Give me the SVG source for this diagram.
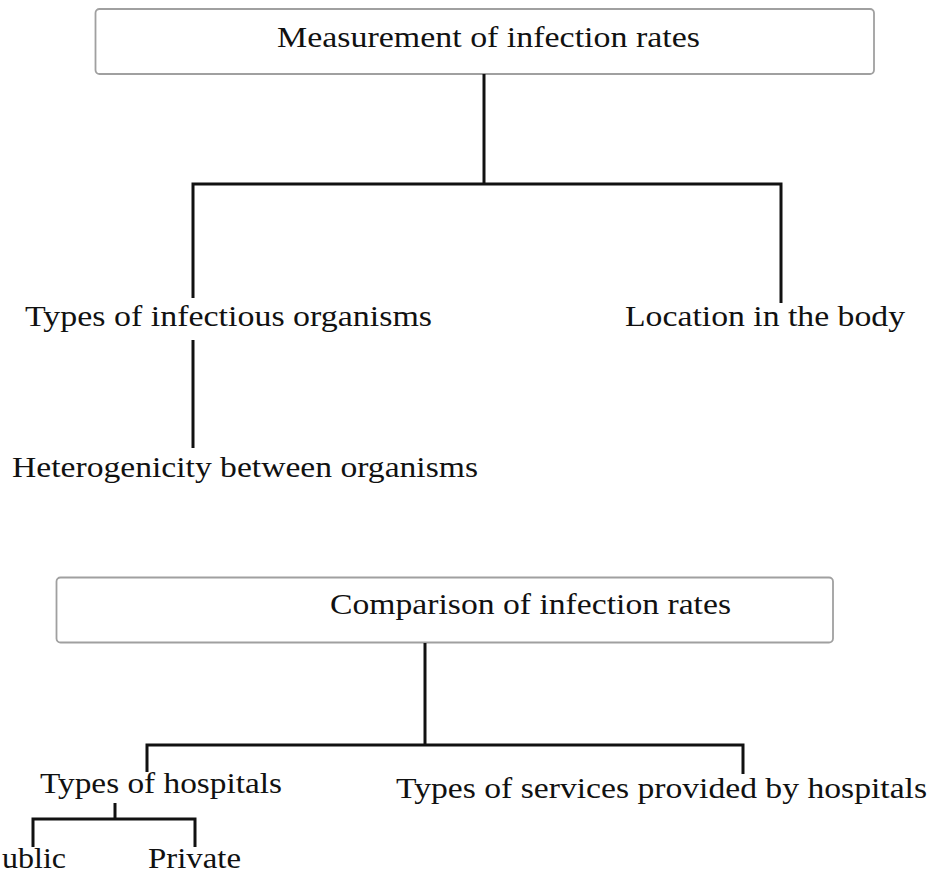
<svg xmlns="http://www.w3.org/2000/svg" width="930" height="877" viewBox="0 0 930 877">
<style>
.box{fill:#fff;stroke:#a0a0a0;stroke-width:1.8}
.t{font-family:"Liberation Serif","Times New Roman",serif;font-size:29px;fill:#111}
.c{fill:none;stroke:#111;stroke-width:3}
</style>
<rect width="930" height="877" fill="#fff"/>
<g id="n-measurement"><rect class="box" x="95.5" y="9" width="778.5" height="65" rx="4"/><text class="t" x="277" y="47" textLength="423" lengthAdjust="spacingAndGlyphs">Measurement of infection rates</text></g>
<g id="n-types-organisms"><text class="t" x="25" y="326" textLength="407" lengthAdjust="spacingAndGlyphs">Types of infectious organisms</text></g>
<g id="n-location"><text class="t" x="625" y="326" textLength="280" lengthAdjust="spacingAndGlyphs">Location in the body</text></g>
<g id="n-heterogenicity"><text class="t" x="12" y="477" textLength="466" lengthAdjust="spacingAndGlyphs">Heterogenicity between organisms</text></g>
<g id="n-comparison"><rect class="box" x="56.5" y="577.5" width="776.5" height="65" rx="4"/><text class="t" x="330" y="614" textLength="401" lengthAdjust="spacingAndGlyphs">Comparison of infection rates</text></g>
<g id="n-types-hospitals"><text class="t" x="40" y="793" textLength="242" lengthAdjust="spacingAndGlyphs">Types of hospitals</text></g>
<g id="n-services"><text class="t" x="396" y="798" textLength="531" lengthAdjust="spacingAndGlyphs">Types of services provided by hospitals</text></g>
<g id="n-public"><text class="t" x="2" y="868" textLength="64" lengthAdjust="spacingAndGlyphs">ublic</text></g>
<g id="n-private"><text class="t" x="148" y="868" textLength="93" lengthAdjust="spacingAndGlyphs">Private</text></g>
<g id="connectors">
<path class="c" d="M484 74V184"/>
<path class="c" d="M193 298V184H781V303"/>
<path class="c" d="M193 340V448"/>
<path class="c" d="M425 643V745"/>
<path class="c" d="M147 772V745H743V774"/>
<path class="c" d="M115 803V819"/>
<path class="c" d="M33 847V819H195V847"/>
</g>
</svg>
